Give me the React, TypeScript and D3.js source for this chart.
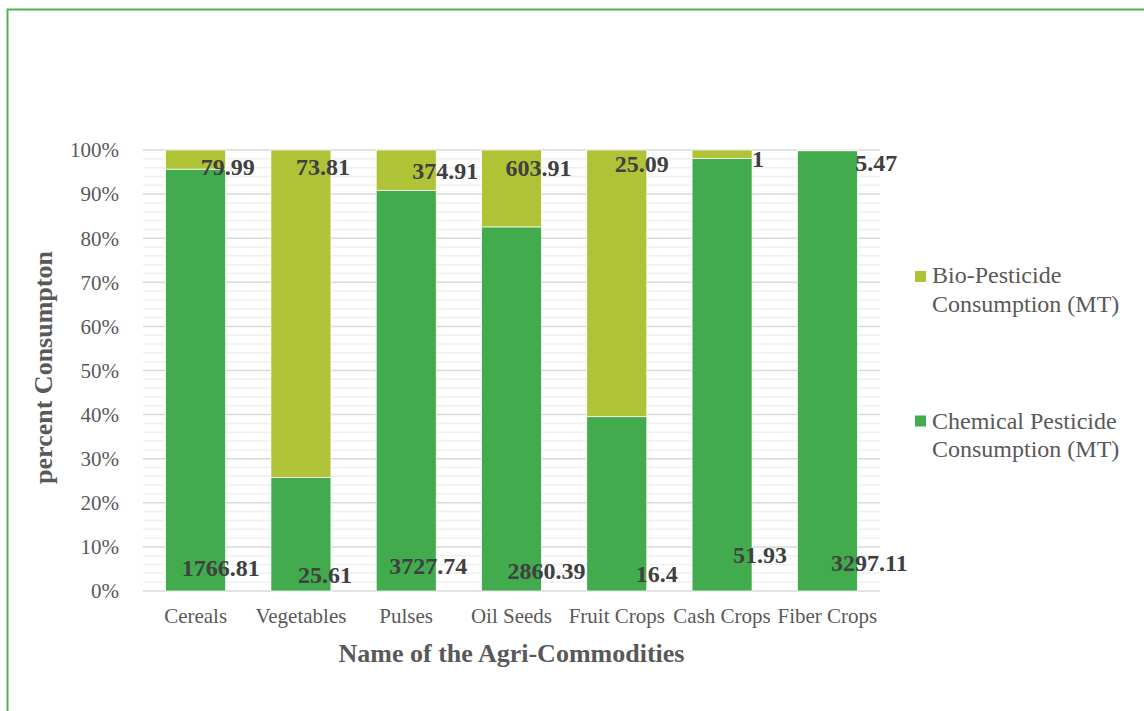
import React from "react";
import * as d3 from "d3";

// Pesticide consumption (MT) by agri-commodity
const categories = ["Cereals", "Vegetables", "Pulses", "Oil Seeds", "Fruit Crops", "Cash Crops", "Fiber Crops"];
const chemical = [1766.81, 25.61, 3727.74, 2860.39, 16.4, 51.93, 3297.11];
const bio = [79.99, 73.81, 374.91, 603.91, 25.09, 1, 5.47];
const yTicks = [0, 0.1, 0.2, 0.3, 0.4, 0.5, 0.6, 0.7, 0.8, 0.9, 1];

// Hand-placed label nudges (px) relative to bar centre and segment edge
const bioNudge: [number, number][] = [[32, 25], [22, 25], [39, 29], [27, 26], [25, 22], [36, 17], [49, 21]];
const chemNudge: [number, number][] = [[25, -15], [24, -8], [22, -17], [35, -12], [40, -9], [38, -28], [42, -20]];

const W = 1144;
const H = 711;
const M = { left: 143, right: 880, top: 150, bottom: 591 };

const CHEM = "#41ab4d";
const BIO = "#b0c236";
const FONT = "'Liberation Serif', 'Times New Roman', serif";

export default function App() {
  const x = d3.scaleBand<string>().domain(categories).range([M.left, M.right]).paddingInner(0.43).paddingOuter(0.215);
  const y = d3.scaleLinear().domain([0, 1]).range([M.bottom, M.top]);

  const rows = categories.map((c, i) => ({ cat: c, chemical: chemical[i], bio: bio[i] }));
  const stack = d3.stack<any>().keys(["chemical", "bio"]).offset(d3.stackOffsetExpand);
  const series = stack(rows);

  const minor = d3.range(0, 1.0001, 0.02).filter((v) => Math.round(v * 50) % 5 !== 0);
  const bw = x.bandwidth();

  return (
    <svg width={W} height={H} style={{ display: "block", position: "absolute", left: 0, top: 0 }} fontFamily={FONT}>
      <rect x={0} y={0} width={W} height={H} fill="#ffffff" />
      {/* frame */}
      <path d={`M7.5,${H} V9.5 H${W}`} fill="none" stroke="#52b157" strokeWidth={2} />

      {/* gridlines */}
      {minor.map((v) => (
        <line key={"m" + v} x1={M.left} x2={M.right} y1={y(v)} y2={y(v)} stroke="#f0f0f0" strokeWidth={1.5} />
      ))}
      {yTicks.map((v) => (
        <line key={"g" + v} x1={M.left} x2={M.right} y1={y(v)} y2={y(v)} stroke="#d9d9d9" strokeWidth={1.5} />
      ))}

      {/* stacked bars */}
      {series.map((s) =>
        s.map((d, i) => (
          <rect
            key={s.key + i}
            x={x(categories[i])!}
            y={y(d[1])}
            width={bw}
            height={y(d[0]) - y(d[1])}
            fill={s.key === "chemical" ? CHEM : BIO}
            stroke="#ffffff"
            strokeWidth={0.75}
          />
        ))
      )}

      {/* y tick labels */}
      {yTicks.map((v) => (
        <text key={"t" + v} x={119} y={y(v)} dy="0.35em" textAnchor="end" fontSize={21} fill="#595959">
          {d3.format(".0%")(v)}
        </text>
      ))}

      {/* x tick labels */}
      {categories.map((c) => (
        <text key={"c" + c} x={x(c)! + bw / 2} y={623} textAnchor="middle" fontSize={21} fill="#595959">
          {c}
        </text>
      ))}

      {/* value labels */}
      {categories.map((c, i) => {
        const cx = x(c)! + bw / 2;
        return (
          <g key={"v" + c} fontSize={24} fontWeight="bold" fill="#404040" textAnchor="middle">
            <text x={cx + bioNudge[i][0]} y={y(1) + bioNudge[i][1]}>{bio[i]}</text>
            <text x={cx + chemNudge[i][0]} y={y(0) + chemNudge[i][1]}>{chemical[i]}</text>
          </g>
        );
      })}

      {/* axis titles */}
      <text x={(M.left + M.right) / 2} y={662} textAnchor="middle" fontSize={26} fontWeight="bold" fill="#595959">
        Name of the Agri-Commodities
      </text>
      <text
        transform={`translate(52,${(M.top + M.bottom) / 2 - 3}) rotate(-90)`}
        textAnchor="middle"
        fontSize={26}
        fontWeight="bold"
        fill="#595959"
      >
        percent Consumpton
      </text>

      {/* legend */}
      <g fontSize={24} fill="#595959">
        <rect x={915} y={271} width={11} height={11} fill={BIO} />
        <text x={932} y={283}>Bio-Pesticide</text>
        <text x={932} y={312}>Consumption (MT)</text>
        <rect x={915} y={415.5} width={11} height={11} fill={CHEM} />
        <text x={932} y={429}>Chemical Pesticide</text>
        <text x={932} y={457}>Consumption (MT)</text>
      </g>
    </svg>
  );
}
